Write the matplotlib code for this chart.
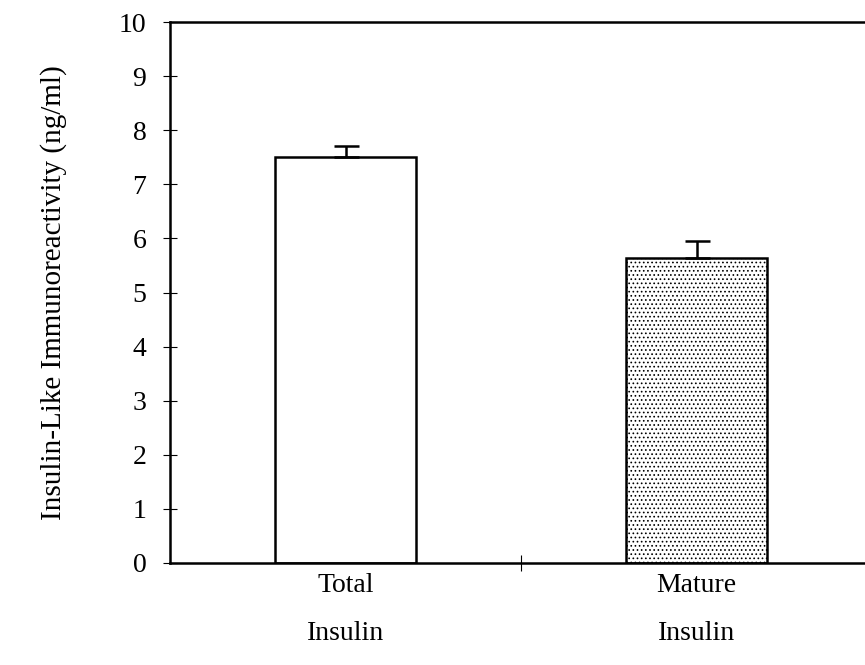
import matplotlib
matplotlib.use("Agg")
import matplotlib.pyplot as plt

# data
categories = ["Total\nInsulin", "Mature\nInsulin"]
values = [7.5, 5.64]
errors = [0.2, 0.31]

plt.rcParams['font.family'] = ['Liberation Serif', 'DejaVu Serif']
plt.rcParams['hatch.linewidth'] = 0.7
plt.rcParams['hatch.color'] = '#666666'

fig = plt.figure(figsize=(8.65, 6.65), dpi=100)
ax = fig.add_axes([170/865, 102/665, 702/865, 541/665])

x = [0, 1]
bars = ax.bar(x, values, width=0.4, color="white", edgecolor="black", linewidth=1.8, zorder=2)
bars[1].set_hatch("....")
ax.errorbar(x, values, yerr=[[0, 0], errors], fmt="none", ecolor="black",
            elinewidth=1.8, capsize=9, capthick=1.8, zorder=3)

ax.set_xlim(-0.5, 1.5)
ax.set_ylim(0, 10)
ax.set_yticks(range(0, 11))
ax.set_xticks([0.5])
ax.set_xticklabels([""])
ax.tick_params(axis="y", direction="inout", length=10, width=0.8, labelsize=20, pad=12)
ax.tick_params(axis="x", direction="inout", length=12, width=0.8)
for xi, lab in zip(x, categories):
    ax.text(xi, -0.018, lab, ha="center", va="top", fontsize=20, linespacing=2.2,
            transform=ax.get_xaxis_transform())

for s in ["left", "bottom", "top"]:
    ax.spines[s].set_linewidth(1.8)
ax.spines["right"].set_visible(False)

ax.set_ylabel("Insulin-Like Immunoreactivity (ng/ml)", fontsize=21, labelpad=37)

fig.savefig("out.png", dpi=100)
